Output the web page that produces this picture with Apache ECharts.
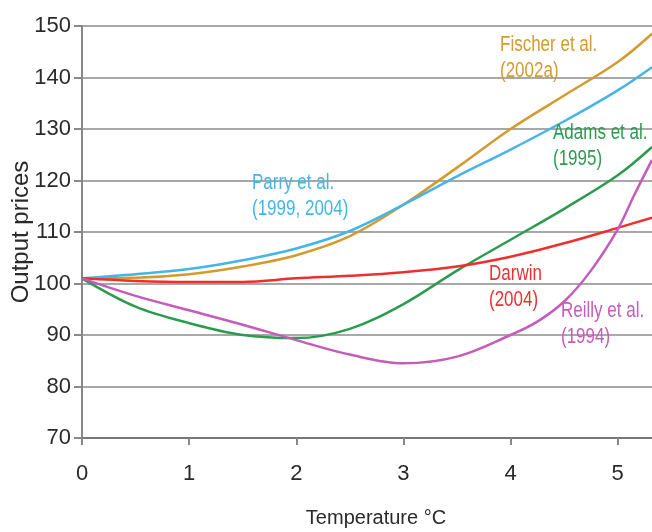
<!DOCTYPE html>
<html>
<head>
<meta charset="utf-8">
<script src="https://cdn.jsdelivr.net/npm/echarts@6/dist/echarts.min.js"></script>
<style>
html,body{margin:0;padding:0;background:#fff;}
#c{width:652px;height:532px;}
</style>
</head>
<body>
<div id="c"></div>
<script>
var temps   = [0, 0.5, 1, 1.5, 2, 2.5, 3, 3.5, 4, 4.5, 5, 5.32];
var fischer = [101, 101.1, 101.8, 103.3, 105.5, 109.2, 115.3, 122.5, 130, 136.5, 143, 148.5];
var parry   = [101, 101.8, 102.8, 104.5, 106.8, 110.2, 115.3, 120.8, 126, 131.5, 137.5, 142];
var adams   = [101, 95.5, 92.3, 90, 89.4, 91.2, 96, 102.5, 108.5, 114.5, 121, 126.5];
var darwin  = [101, 100.5, 100.3, 100.3, 101, 101.5, 102.2, 103.3, 105.2, 107.8, 110.8, 112.8];
var reillyT = [0, 0.5, 1, 1.5, 2, 2.5, 3, 3.5, 4, 4.25, 4.5, 4.75, 5, 5.15, 5.32];
var reilly  = [101, 97.6, 94.8, 92, 89, 86.2, 84.5, 85.8, 90, 92.6, 96.5, 102.5, 110.5, 117, 124];
var xTicks  = [0, 1, 2, 3, 4, 5];
var yMin = 70, yMax = 150, yStep = 10;

var FONT = "'Liberation Sans',Arial,sans-serif";

function pairs(xs, ys){ return ys.map(function(v,i){ return [xs[i], v]; }); }

var seriesDefs = [
  {name:'Fischer et al. (2002a)', x: temps, y: fischer, color:'#d49a2e'},
  {name:'Parry et al. (1999, 2004)', x: temps, y: parry, color:'#45b5e8'},
  {name:'Adams et al. (1995)', x: temps, y: adams, color:'#2b9b4e'},
  {name:'Darwin (2004)', x: temps, y: darwin, color:'#ec2f2f'},
  {name:'Reilly et al. (1994)', x: reillyT, y: reilly, color:'#c55cb9'}
];

var annotations = [
  {text:'Fischer et al.\n(2002a)', left:500, top:32, color:'#d49a2e'},
  {text:'Adams et al.\n(1995)', left:553, top:120, color:'#2b9b4e'},
  {text:'Parry et al.\n(1999, 2004)', left:252, top:170, color:'#45b5e8'},
  {text:'Darwin\n(2004)', left:489, top:261, color:'#ec2f2f'},
  {text:'Reilly et al.\n(1994)', left:561, top:298, color:'#c55cb9'}
];

var chart = echarts.init(document.getElementById('c'), null, {renderer:'canvas'});
chart.setOption({
  backgroundColor:'#fff',
  animation:false,
  grid:{left:82, right:0, top:26, bottom:94, containLabel:false, outerBoundsMode:'none'},
  xAxis:{
    type:'value', min:0, max:5.32, interval:1,
    name:'Temperature °C', nameLocation:'middle', nameGap:70, nameMoveOverlap:false,
    nameTextStyle:{fontFamily:FONT, fontSize:20, color:'#2a2a2a', padding:[0,0,0,18]},
    axisLine:{show:true, onZero:false, lineStyle:{color:'#777', width:2}},
    axisTick:{show:true, length:7, customValues: xTicks, lineStyle:{color:'#888', width:2}},
    axisLabel:{customValues: xTicks, margin:25, fontFamily:FONT, fontSize:22, color:'#2a2a2a'},
    splitLine:{show:false}
  },
  yAxis:{
    type:'value', min:yMin, max:yMax, interval:yStep,
    name:'Output prices', nameLocation:'middle', nameGap:49, nameMoveOverlap:false,
    nameTextStyle:{fontFamily:FONT, fontSize:24, color:'#2a2a2a'},
    axisLine:{show:true, lineStyle:{color:'#888', width:2}},
    axisTick:{show:true, length:8, lineStyle:{color:'#888', width:2}},
    axisLabel:{margin:11, fontFamily:FONT, fontSize:22, color:'#2a2a2a'},
    splitLine:{show:true, lineStyle:{color:'#a8a8a8', width:2}}
  },
  series: seriesDefs.map(function(s){
    return {
      name:s.name, type:'line', smooth:0.35, showSymbol:false,
      data: pairs(s.x, s.y),
      lineStyle:{color:s.color, width:2.5},
      itemStyle:{color:s.color}
    };
  }),
  graphic: annotations.map(function(a){
    return {type:'text', x:a.left, y:a.top, scaleY:1.3, z:100,
      style:{text:a.text, fill:a.color, font:'17px ' + FONT, lineHeight:20}};
  })
});
</script>
</body>
</html>
